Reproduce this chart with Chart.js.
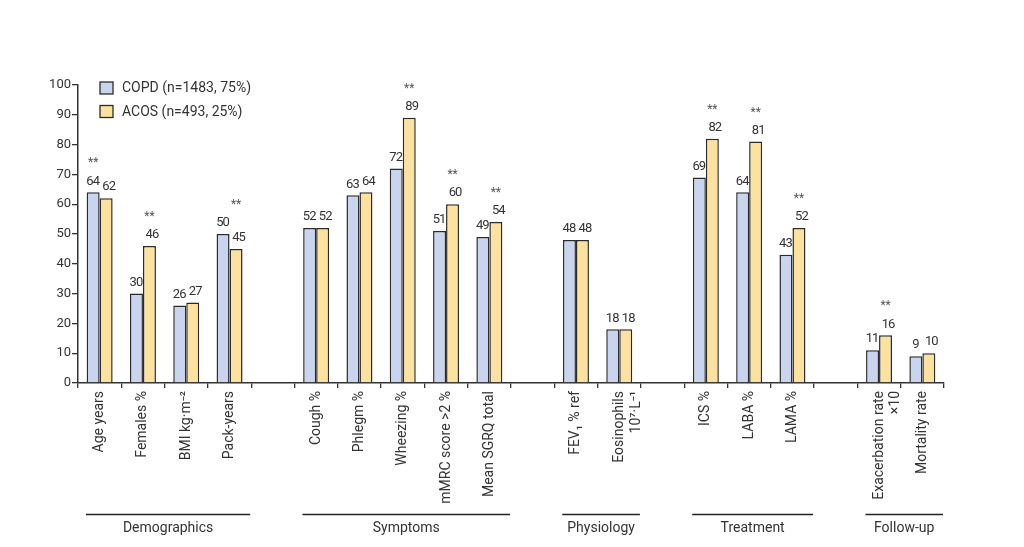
<!DOCTYPE html>
<html><head><meta charset="utf-8">
<script src="https://cdn.jsdelivr.net/npm/chart.js@4.4.0/dist/chart.umd.min.js"></script>
<style>html,body{margin:0;padding:0;background:#fff}#wrap{width:1024px;height:547px}</style>
</head><body><div id="wrap"><canvas id="c" width="1024" height="547"></canvas></div>
<script>
const categories = [['Age years'],['Females %'],['BMI kg·m⁻²'],['Pack-years'],'',
  ['Cough %'],['Phlegm %'],['Wheezing %'],['mMRC score >2 %'],['Mean SGRQ total'],'',
  ['FEV₁ % ref'],['Eosinophils','10⁷·L⁻¹'],'',
  ['ICS %'],['LABA %'],['LAMA %'],'',
  ['Exacerbation rate','×10'],['Mortality rate']];
const copdValues = [64,30,26,50,null,52,63,72,51,49,null,48,18,null,69,64,43,null,11,9];
const acosValues = [62,46,27,45,null,52,64,89,60,54,null,48,18,null,82,81,52,null,16,10];
// which series carries the "**" marker (0 = COPD, 1 = ACOS, -1 = none)
const significance = [0,1,-1,1,-1,-1,-1,1,1,1,-1,-1,-1,-1,1,1,1,-1,1,-1];
const seriesNames = ['COPD (n=1483, 75%)','ACOS (n=493, 25%)'];
const groupNames = ['Demographics','Symptoms','Physiology','Treatment','Follow-up'];
const groupStart = [0,5,11,14,18];
const groupEnd = [3,9,12,16,19];
const yTicks = [0,10,20,30,40,50,60,70,80,90,100];

const FONT = 'Roboto, "DejaVu Sans", sans-serif';
const TXT = '#333333';
const colors = ['#c9d5ee','#fde19f'];
const edge = '#2b2b2b';

const labelPlugin = {
  id:'vals',
  afterDatasetsDraw(chart){
    const ctx = chart.ctx;
    ctx.save();
    ctx.fillStyle = TXT;
    ctx.textAlign = 'center';
    ctx.textBaseline = 'middle';
    ctx.font = '13px ' + FONT;
    if ('letterSpacing' in ctx) ctx.letterSpacing = '-0.9px';
    const metas = [chart.getDatasetMeta(0), chart.getDatasetMeta(1)];
    const shift = [-0.5, 2.5];
    metas.forEach((m, di) => {
      m.data.forEach((el, i) => {
        const v = chart.data.datasets[di].data[i];
        if (v === null) return;
        ctx.fillText(String(v), el.x + shift[di], el.y - 11);
      });
    });
    if ('letterSpacing' in ctx) ctx.letterSpacing = '0px';
    ctx.font = '12px ' + FONT;
    ctx.fillStyle = '#555';
    significance.forEach((s, i) => {
      if (s < 0) return;
      const a = metas[0].data[i], b = metas[1].data[i];
      const top = Math.min(a.y, b.y);
      ctx.fillText('**', metas[s].data[i].x, top - 11 - 18);
    });
    ctx.restore();
  }
};

const legendPlugin = {
  id:'leg',
  afterDraw(chart){
    const ctx = chart.ctx, ca = chart.chartArea;
    ctx.save();
    seriesNames.forEach((n, i) => {
      const x = ca.left + 22, y = ca.top - 3 + i * 23.5;
      ctx.fillStyle = colors[i];
      ctx.fillRect(x, y, 13, 12);
      ctx.strokeStyle = edge; ctx.lineWidth = 1.3;
      ctx.strokeRect(x, y, 13, 12);
      ctx.fillStyle = TXT;
      ctx.font = '14px ' + FONT;
      ctx.textBaseline = 'middle';
      ctx.textAlign = 'left';
      ctx.fillText(n, x + 22, y + 6.5);
    });
    ctx.restore();
  }
};

const groupPlugin = {
  id:'grp',
  afterDraw(chart){
    const ctx = chart.ctx, xs = chart.scales.x;
    const half = (xs.getPixelForValue(1) - xs.getPixelForValue(0)) / 2;
    ctx.save();
    groupNames.forEach((g, k) => {
      const x1 = xs.getPixelForValue(groupStart[k]) - half + 8;
      const x2 = xs.getPixelForValue(groupEnd[k]) + half - 1;
      ctx.strokeStyle = '#222'; ctx.lineWidth = 1.3;
      ctx.beginPath(); ctx.moveTo(x1, 514.5); ctx.lineTo(x2, 514.5); ctx.stroke();
      ctx.fillStyle = TXT; ctx.font = '14px ' + FONT;
      ctx.textAlign = 'center'; ctx.textBaseline = 'middle';
      ctx.fillText(g, (x1 + x2) / 2, 528.5);
    });
    ctx.restore();
  }
};

new Chart(document.getElementById('c').getContext('2d'), {
  type:'bar',
  data:{
    labels:categories,
    datasets:[
      {label:seriesNames[0], data:copdValues, backgroundColor:colors[0], borderColor:edge, borderWidth:1.5},
      {label:seriesNames[1], data:acosValues, backgroundColor:colors[1], borderColor:edge, borderWidth:1.5}
    ]
  },
  options:{
    responsive:false, animation:false,
    layout:{padding:{top:85,right:80,left:0,bottom:0}},
    datasets:{bar:{categoryPercentage:0.6, barPercentage:1}},
    plugins:{legend:{display:false}, tooltip:{enabled:false}},
    scales:{
      x:{
        offset:true,
        grid:{offset:true, drawOnChartArea:false, drawTicks:true, tickLength:5, color:'#333', lineWidth:1.3},
        border:{color:'#333', width:1.5},
        ticks:{autoSkip:false, maxRotation:90, minRotation:90, font:{family:FONT, size:14}, color:TXT, padding:3},
        afterFit(s){ s.height = 164; }
      },
      y:{
        min:0, max:100,
        afterBuildTicks(s){ s.ticks = yTicks.map(v => ({value:v})); },
        ticks:{font:{family:FONT, size:13}, color:TXT, padding:1},
        grid:{drawOnChartArea:false, drawTicks:true, tickLength:6, color:'#333', lineWidth:1.3},
        border:{color:'#333', width:1.5},
        afterFit(s){ s.width = 78; }
      }
    }
  },
  plugins:[labelPlugin, legendPlugin, groupPlugin]
});
</script></body></html>
